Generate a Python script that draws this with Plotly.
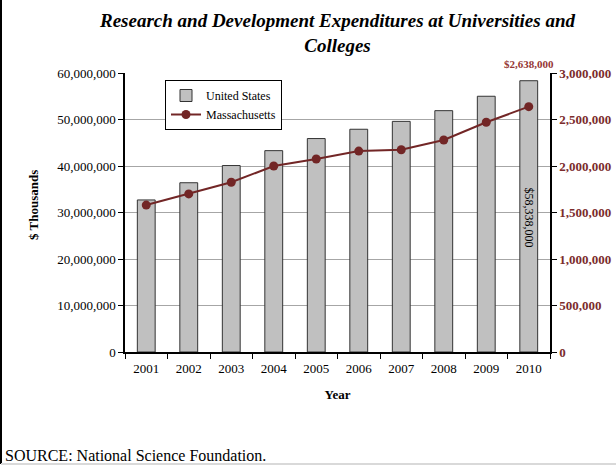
import plotly.graph_objects as go

years = ["2001", "2002", "2003", "2004", "2005", "2006", "2007", "2008", "2009", "2010"]
us_values = [32700000, 36400000, 40100000, 43300000, 45900000, 47900000, 49600000, 51900000, 55000000, 58338000]
ma_values = [1580000, 1700000, 1825000, 2000000, 2075000, 2160000, 2175000, 2280000, 2470000, 2638000]
left_ticks = [0, 10000000, 20000000, 30000000, 40000000, 50000000, 60000000]
right_ticks = [0, 500000, 1000000, 1500000, 2000000, 2500000, 3000000]

W, H = 616, 466
ML, MR, MT, MB = 125, 66, 73, 114
PW = W - ML - MR
PH = H - MT - MB
SERIF = "Liberation Serif, Times New Roman, serif"
RED = "#7B2C2C"
last = len(years) - 1


def py(pixel_y):
    return (MT + PH - pixel_y) / PH


def px(pixel_x):
    return (pixel_x - ML) / PW


fig = go.Figure()
fig.add_trace(go.Bar(
    x=years, y=us_values, name="United States",
    marker=dict(color="#C0C0C0", line=dict(color="#333333", width=1)),
    width=0.42, yaxis="y",
))
fig.add_trace(go.Scatter(
    x=years, y=ma_values, name="Massachusetts", mode="lines+markers",
    line=dict(color="#722626", width=2),
    marker=dict(color="#722626", size=9),
    yaxis="y2",
))

fig.update_layout(
    width=W, height=H,
    margin=dict(l=ML, r=MR, t=MT, b=MB, autoexpand=False),
    paper_bgcolor="white", plot_bgcolor="white",
    font=dict(family=SERIF, size=13, color="black"),
    xaxis=dict(
        type="category", range=[-0.5, last + 0.5], showline=True, linecolor="black", linewidth=1.5,
        ticks="outside", tickson="boundaries", ticklen=5, tickcolor="black",
        tickfont=dict(size=13), showgrid=False, tickangle=0, ticklabelstandoff=4,
        title=dict(text="<b>Year</b>", font=dict(size=13), standoff=15),
    ),
    yaxis=dict(
        range=[0, 60000000], tickvals=left_ticks,
        tickformat=",", showline=True, linecolor="black", linewidth=1.5,
        ticks="outside", ticklen=5, tickcolor="black",
        showgrid=True, gridcolor="#A6A6A6", gridwidth=1,
        tickfont=dict(size=13), zeroline=False,
    ),
    yaxis2=dict(
        range=[0, 3000000], tickvals=right_ticks, tickformat=",",
        overlaying="y", side="right", showline=True, linecolor="black", linewidth=1.5,
        ticks="outside", ticklen=5, tickcolor="black", showgrid=False, zeroline=False,
        tickfont=dict(size=13, color=RED, family=SERIF, weight="bold"),
    ),
    legend=dict(
        x=px(165), y=py(80), xanchor="left", yanchor="top",
        bgcolor="white", bordercolor="black", borderwidth=1,
        font=dict(size=12), tracegroupgap=6, itemwidth=30,
        entrywidth=115, entrywidthmode="pixels",
    ),
    showlegend=True,
)

fig.add_annotation(
    x=px(ML + PW / 2), y=py(33), xref="paper", yref="paper", xanchor="center", yanchor="middle",
    text="<b><i>Research and Development Expenditures at Universities and<br>Colleges</i></b>",
    showarrow=False, font=dict(family=SERIF, size=19, color="black"),
)
fig.add_annotation(
    x=px(33), y=py(205), xref="paper", yref="paper", xanchor="center", yanchor="middle",
    text="<b>$ Thousands</b>", textangle=-90,
    showarrow=False, font=dict(family=SERIF, size=13, color="black"),
)
fig.add_annotation(
    x=last, y=29000000, xref="x", yref="y", text="$58,338,000",
    textangle=90, showarrow=False, font=dict(size=12, family=SERIF, color="black"),
)
fig.add_annotation(
    x=last, y=1.0, xref="x", yref="paper", yanchor="bottom", yshift=1, text="<b>$2,638,000</b>",
    showarrow=False, font=dict(size=11, family=SERIF, color="#953735"),
)
fig.add_annotation(
    x=px(3), y=py(455), xref="paper", yref="paper",
    xanchor="left", yanchor="middle", text="SOURCE: National Science Foundation.",
    showarrow=False, font=dict(size=16, family=SERIF, color="black"),
)
# frame lines
fig.add_shape(type="line", xref="paper", yref="paper",
              x0=px(1), x1=px(1), y0=py(464), y1=py(0),
              line=dict(color="black", width=2))
fig.add_shape(type="line", xref="paper", yref="paper",
              x0=px(1), x1=px(W), y0=py(464), y1=py(464),
              line=dict(color="#D9D9D9", width=2))

fig.write_html(
    "out.html",
    config={"displayModeBar": False},
    post_script="document.body.style.margin='0';document.body.style.overflow='hidden';",
)
